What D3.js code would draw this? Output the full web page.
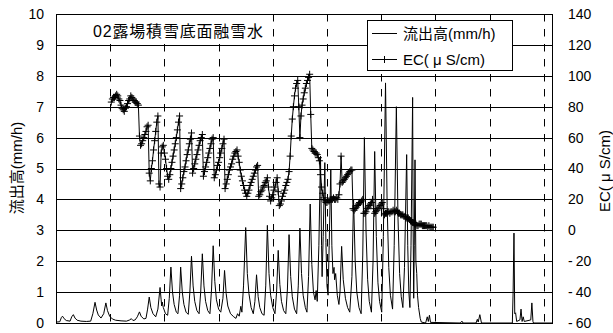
<!DOCTYPE html>
<html><head><meta charset="utf-8">
<script src="https://cdn.jsdelivr.net/npm/d3@7"></script>
<style>body{margin:0;background:#fff} svg{display:block}</style>
</head><body><svg id="c" width="613" height="333"></svg>
<script>
// ---------- data ----------
const leftTicks = [0,1,2,3,4,5,6,7,8,9,10];
const rightTicks = [-60,-40,-20,0,20,40,60,80,100,120,140];
const dayMarks = [5,10,15,20,25,30,35,40,45];
const chartTitle = "02露場積雪底面融雪水";
const seriesNames = ["流出高(mm/h)", "EC( μ S/cm)"];
const leftTitle = "流出高(mm/h)";
const rightTitle = "EC( μ S/cm)";

// discharge [day, mm/h]
const flow = [
[0,0.03],[0.35,0.04],[0.5,0.18],[0.6,0.22],[0.75,0.14],[0.95,0.08],[1.3,0.06],[1.45,0.2],[1.6,0.27],[1.75,0.16],[1.95,0.09],[2.3,0.06],[2.8,0.05],[3.2,0.06],[3.4,0.3],[3.6,0.67],[3.75,0.42],[3.9,0.26],[4.15,0.16],[4.4,0.3],[4.6,0.65],[4.75,0.4],[4.95,0.22],[5.2,0.13],[5.5,0.09],[6.0,0.07],[6.5,0.06],[6.8,0.1],[6.95,0.14],[7.1,0.08],[7.3,0.1],[7.5,0.2],[7.7,0.36],[7.85,0.22],[8.1,0.13],[8.3,0.15],[8.45,0.45],[8.6,0.84],[8.75,0.5],[8.95,0.3],[9.2,0.2],[9.4,0.45],[9.6,1.15],[9.7,0.75],[9.75,0.55],[9.8,0.68],[9.9,0.5],[10.1,0.3],[10.3,0.25],[10.45,0.8],[10.6,1.81],[10.75,1.0],[10.9,0.6],[11.1,0.35],[11.25,0.3],[11.4,0.9],[11.5,1.81],[11.65,1.0],[11.8,0.6],[12.0,0.35],[12.2,0.28],[12.35,1.0],[12.5,2.16],[12.65,1.2],[12.8,0.7],[13.0,0.4],[13.2,0.3],[13.35,1.0],[13.5,2.24],[13.65,1.2],[13.8,0.7],[14.0,0.4],[14.2,0.3],[14.35,1.1],[14.5,2.5],[14.65,1.35],[14.8,0.75],[15.0,0.45],[15.2,0.35],[15.4,0.8],[15.55,1.7],[15.7,0.95],[15.85,0.55],[16.1,0.3],[16.4,0.2],[16.6,0.15],[16.75,0.3],[16.9,0.22],[17.05,0.54],[17.15,0.35],[17.3,1.2],[17.5,3.09],[17.65,1.6],[17.8,0.95],[18.0,0.5],[18.2,0.3],[18.35,0.7],[18.5,1.56],[18.65,0.85],[18.8,0.5],[19.0,0.3],[19.2,0.25],[19.35,1.2],[19.5,3.16],[19.65,1.6],[19.8,0.9],[20.0,0.5],[20.2,0.3],[20.35,1.0],[20.5,2.35],[20.65,1.25],[20.8,0.7],[21.0,0.4],[21.2,0.3],[21.35,1.1],[21.5,2.86],[21.65,1.5],[21.8,0.85],[22.0,0.45],[22.2,0.3],[22.35,1.2],[22.5,3.07],[22.65,1.6],[22.8,0.9],[23.0,0.5],[23.15,0.35],[23.3,1.5],[23.45,3.85],[23.6,1.9],[23.75,1.0],[23.9,0.75],[24.0,1.05],[24.1,0.7],[24.25,2.5],[24.4,5.4],[24.5,2.5],[24.55,1.5],[24.65,2.8],[24.8,5.19],[24.9,2.6],[25.0,1.2],[25.1,0.9],[25.2,2.5],[25.35,4.96],[25.45,2.5],[25.55,1.6],[25.65,1.8],[25.7,1.4],[25.8,1.6],[25.95,0.9],[26.1,0.6],[26.2,1.0],[26.35,2.48],[26.5,1.4],[26.7,0.8],[26.9,0.5],[27.1,0.35],[27.3,1.5],[27.45,4.0],[27.6,2.0],[27.75,1.0],[27.95,0.5],[28.15,0.3],[28.3,2.2],[28.45,6.0],[28.6,3.0],[28.75,1.4],[28.9,0.7],[29.1,0.35],[29.25,2.0],[29.4,5.55],[29.55,2.8],[29.7,1.3],[29.85,0.7],[30.05,0.35],[30.2,2.8],[30.4,7.77],[30.55,3.8],[30.7,1.8],[30.85,0.9],[31.05,0.45],[31.2,2.5],[31.4,7.0],[31.55,3.4],[31.7,1.6],[31.85,0.85],[32.0,0.5],[32.15,1.8],[32.35,5.45],[32.45,2.5],[32.55,1.0],[32.65,0.5],[32.75,2.5],[32.9,7.3],[32.95,3.0],[33.0,0.8],[33.05,2.5],[33.12,5.28],[33.2,2.0],[33.28,1.6],[33.35,0.9],[33.45,0.5],[33.6,0.15],[33.7,0.03],[34.1,0.0],[34.25,0.2],[34.35,0.05],[34.45,0.25],[34.55,0.02],[37.3,0],[37.45,0.06],[37.55,0],[38.75,0],[38.87,0.12],[38.95,0.03],[39.1,0.27],[39.25,0],[42.1,0],[42.17,1.0],[42.25,2.91],[42.32,0.3],[42.4,0.33],[42.5,0.05],[42.8,0.1],[42.9,0.45],[43.0,0.05],[43.1,0.2],[43.2,0.05],[43.8,0.1],[43.9,0.65],[44.0,0.05],[44.05,0],[45.8,0]
];

// EC, sampled every 0.1 day from day 5.1
const ecStartDay = 5.1, ecStepDay = 0.1;
const ecValues = [
83,85,86,86,87,88,87,85,84,
81,79,78,77,79,80,82,84,85,87,
86,85,84,83,83,82,81,61,55,56,
58,60,62,64,67,68,37,32,40,45,
52,58,64,70,74,30,28,50,54,55,
50,46,40,35,33,36,40,44,48,52,
56,60,65,70,74,27,30,34,38,41,
45,49,52,56,59,63,37,40,43,46,
49,52,55,58,60,62,35,38,41,44,
47,50,53,56,59,60,34,36,39,42,
44,47,50,53,56,59,27,30,33,36,
39,41,43,46,48,50,51,52,48,44,
39,35,32,29,26,24,22,24,26,29,
31,33,35,37,39,41,42,22,23,25,
26,28,29,31,32,34,28,22,19,21,
23,26,28,31,34,25,16,17,19,22,
24,26,29,31,33,38,48,61,72,80,
87,92,95,97,80,60,74,81,85,89,
92,95,97,99,101,75,53,52,51,50,
50,49,47,45,36,28,24,21,19,18,
18,19,19,20,20,20,21,20,20,21,
20,23,30,48,31,32,33,34,35,36,
37,38,39,39,14,13,14,15,16,17,
18,18,19,20,11,11,12,14,15,16,
17,18,20,14,11,12,13,14,15,16,
17,18,14,10,11,11,12,12,11,12,
12,13,12,12,13,12,11,11,10,10,
10,9,9,8,8,8,7,6,6,5,
5,4,4,3,3,4,4,4,3,3,
3,3,3,2,3,2,2,2,2
];

// ---------- layout ----------
const FONT = "'Liberation Sans', Arial, 'Noto Sans CJK JP', sans-serif";
const L = 56, R = 553, T = 14, B = 323;
const svg = d3.select("#c");
const x = d3.scaleLinear().domain([0, 45.85]).range([L, R]);
const yL = d3.scaleLinear().domain([0, 10]).range([B, T]);
const yR = d3.scaleLinear().domain([-60, 140]).range([B, T]);
const px = v => Math.round(v) + 0.5;

// horizontal grid
svg.append("g").selectAll("line").data(leftTicks).join("line")
  .attr("x1", L).attr("x2", R)
  .attr("y1", d => px(yL(d))).attr("y2", d => px(yL(d)))
  .attr("stroke", "#000").attr("stroke-width", 1);

// vertical dashed lines
svg.append("g").selectAll("line").data(dayMarks).join("line")
  .attr("x1", d => px(x(d))).attr("x2", d => px(x(d)))
  .attr("y1", T).attr("y2", B)
  .attr("stroke", "#000").attr("stroke-width", 1)
  .attr("stroke-dasharray", "7.5,7.5");

// title with white background
svg.append("rect").attr("x", 88).attr("y", 15).attr("width", 180).attr("height", 28).attr("fill", "#fff");
svg.append("text").attr("x", 93).attr("y", 37)
  .attr("font-family", FONT).attr("font-size", 16).attr("fill", "#000")
  .attr("textLength", 170).attr("lengthAdjust", "spacing")
  .text(chartTitle);

// EC series
const ecData = ecValues.map((v, i) => [ecStartDay + i * ecStepDay, v]);
const ecLine = d3.line().x(d => x(d[0])).y(d => yR(d[1]));
svg.append("path").datum(ecData).attr("d", ecLine)
  .attr("fill", "none").attr("stroke", "#000").attr("stroke-width", 1);
const plus = "M-3.5,0H3.5M0,-3.5V3.5";
svg.append("g").selectAll("path").data(ecData).join("path")
  .attr("transform", d => `translate(${x(d[0])},${yR(d[1])})`)
  .attr("d", plus).attr("fill", "none").attr("stroke", "#000").attr("stroke-width", 1);

// discharge series
const flowLine = d3.line().x(d => x(d[0])).y(d => yL(d[1]));
svg.append("path").datum(flow).attr("d", flowLine)
  .attr("fill", "none").attr("stroke", "#000").attr("stroke-width", 1);

// frame
svg.append("rect").attr("x", L + 0.5).attr("y", T + 0.5).attr("width", R - L - 1).attr("height", B - T)
  .attr("fill", "none").attr("stroke", "#000").attr("stroke-width", 1);

// axes
const gL = svg.append("g").attr("transform", `translate(${L},0)`)
  .call(d3.axisLeft(yL).tickValues(leftTicks).tickSize(0).tickPadding(12));
gL.attr("font-size", 14).attr("font-family", FONT);
gL.select(".domain").remove();
gL.selectAll("text").attr("fill", "#000");

const gR = svg.append("g").attr("transform", `translate(${R},0)`)
  .call(d3.axisRight(yR).tickValues(rightTicks).tickSize(0).tickPadding(15));
gR.attr("font-size", 14).attr("font-family", FONT);
gR.select(".domain").remove();
gR.selectAll("text").attr("fill", "#000").each(function(d) {
  if (d < 0) {
    const t = d3.select(this);
    t.text(null);
    t.append("tspan").text("-");
    t.append("tspan").attr("dx", 3).text(Math.abs(d));
  }
});

// axis titles
svg.append("text").attr("transform", "translate(22,168) rotate(-90)")
  .attr("text-anchor", "middle").attr("font-family", FONT).attr("font-size", 15).attr("fill", "#000")
  .text(leftTitle);
svg.append("text").attr("transform", "translate(610,171) rotate(-90)")
  .attr("text-anchor", "middle").attr("font-family", FONT).attr("font-size", 15).attr("fill", "#000")
  .text(rightTitle);

// legend
const lg = svg.append("g");
lg.append("rect").attr("x", 367.5).attr("y", 20.5).attr("width", 145).attr("height", 50)
  .attr("fill", "#fff").attr("stroke", "#000").attr("stroke-width", 1);
const rows = [33.5, 59.5];
lg.selectAll("line.s").data(rows).join("line").attr("class", "s")
  .attr("x1", 372).attr("x2", 397).attr("y1", d => d).attr("y2", d => d)
  .attr("stroke", "#000").attr("stroke-width", 1);
lg.append("path").attr("transform", `translate(384.5,${rows[1]})`).attr("d", plus)
  .attr("fill", "none").attr("stroke", "#000");
lg.selectAll("text").data(seriesNames).join("text")
  .attr("x", 403).attr("y", (d, i) => rows[i] + 5.5)
  .attr("font-family", FONT).attr("font-size", 15).attr("fill", "#000")
  .text(d => d);
</script></body></html>
